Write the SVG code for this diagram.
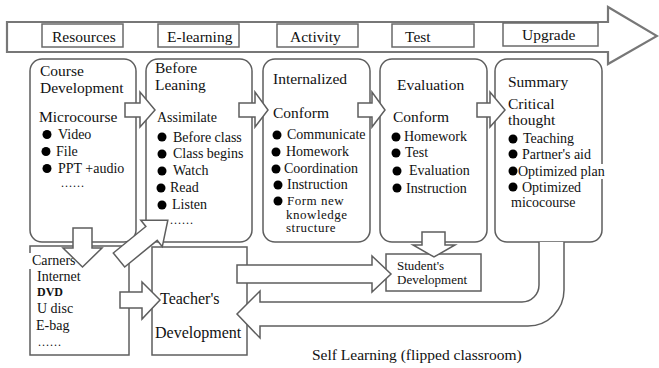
<svg xmlns="http://www.w3.org/2000/svg" width="659" height="368" viewBox="0 0 659 368">
  <style>
    text { font-family: "Liberation Serif", "Times New Roman", serif; fill: #111; }
    .title { font-size: 15.5px; }
    .item { font-size: 14px; }
    .tight { font-size: 13px; letter-spacing: 0.5px; }
    .small { font-size: 13px; }
    .more { font-size: 12px; letter-spacing: 1px; }
    .stage { fill: #fff; stroke: #6a6a6a; stroke-width: 1.5; }
    .box { fill: #fff; stroke: #5e5e5e; stroke-width: 1.5; }
    .arrow { fill: #fff; stroke: #5e5e5e; stroke-width: 1.5; stroke-linejoin: miter; }
    .dot { fill: #000; }
  </style>

  <rect x="0" y="0" width="659" height="368" fill="#fff"/>

  <!-- timeline banner with stage labels -->
  <g id="timeline">
    <path d="M7,22 L608,22 L608,7 L657,36 L608,64 L608,52 L7,52 Z" fill="#fff" stroke="#777" stroke-width="2.2"/>
  </g>
  <g id="stage-resources">
    <rect class="stage" x="42" y="24" width="81" height="23"/>
    <text class="title" x="52" y="42">Resources</text>
  </g>
  <g id="stage-elearning">
    <rect class="stage" x="158" y="24" width="81" height="23"/>
    <text class="title" x="167" y="42">E-learning</text>
  </g>
  <g id="stage-activity">
    <rect class="stage" x="277" y="24" width="81" height="23"/>
    <text class="title" x="290" y="42">Activity</text>
  </g>
  <g id="stage-test">
    <rect class="stage" x="392" y="24" width="82" height="23"/>
    <text class="title" x="405" y="42">Test</text>
  </g>
  <g id="stage-upgrade">
    <rect class="stage" x="503" y="23" width="95" height="23"/>
    <text class="title" x="522" y="40">Upgrade</text>
  </g>

  <!-- Course development -->
  <g id="course-development">
    <rect class="box" x="30" y="59" width="106" height="183" rx="12"/>
    <text class="title" x="40" y="76">Course</text>
    <text class="title" x="40" y="93">Development</text>
    <text class="title" x="39" y="122">Microcourse</text>
    <circle class="dot" cx="47" cy="134.5" r="4.5"/>
    <text class="item" x="58" y="139">Video</text>
    <circle class="dot" cx="46" cy="151.5" r="4.5"/>
    <text class="item" x="56" y="156">File</text>
    <circle class="dot" cx="47" cy="168.5" r="4.5"/>
    <text class="item" x="58" y="173">PPT +audio</text>
    <text class="more" x="61" y="187">......</text>
  </g>

  <!-- Before learning -->
  <g id="before-learning">
    <rect class="box" x="146" y="59" width="106" height="183" rx="12"/>
    <text class="title" x="155" y="73">Before</text>
    <text class="title" x="155" y="90">Leaning</text>
    <text class="item" x="157" y="122">Assimilate</text>
    <circle class="dot" cx="162" cy="137" r="4.5"/>
    <text class="item" x="173" y="142">Before class</text>
    <circle class="dot" cx="162" cy="154" r="4.5"/>
    <text class="item" x="173" y="158">Class begins</text>
    <circle class="dot" cx="162" cy="171" r="4.5"/>
    <text class="item" x="173" y="175">Watch</text>
    <circle class="dot" cx="161" cy="188" r="4.5"/>
    <text class="item" x="170" y="192">Read</text>
    <circle class="dot" cx="162" cy="205" r="4.5"/>
    <text class="item" x="172" y="209">Listen</text>
    <text class="more" x="170" y="224">......</text>
  </g>

  <!-- Internalized -->
  <g id="internalized">
    <rect class="box" x="263" y="59" width="107" height="183" rx="12"/>
    <text class="title" x="273" y="84">Internalized</text>
    <text class="title" x="273" y="118">Conform</text>
    <circle class="dot" cx="277" cy="135" r="4.5"/>
    <text class="item" x="287" y="139">Communicate</text>
    <circle class="dot" cx="276" cy="152" r="4.5"/>
    <text class="item" x="286" y="156">Homework</text>
    <circle class="dot" cx="276" cy="169" r="4.5"/>
    <text class="item" x="284" y="173">Coordination</text>
    <circle class="dot" cx="278" cy="185" r="4.5"/>
    <text class="item" x="287" y="189">Instruction</text>
    <circle class="dot" cx="278" cy="201" r="4.5"/>
    <text class="tight" x="287" y="205">Form new</text>
    <text class="tight" x="286" y="218.5">knowledge</text>
    <text class="tight" x="286" y="232">structure</text>
  </g>

  <!-- Evaluation -->
  <g id="evaluation">
    <rect class="box" x="380" y="59" width="107" height="183" rx="12"/>
    <text class="title" x="397" y="90">Evaluation</text>
    <text class="title" x="393" y="122">Conform</text>
    <circle class="dot" cx="396" cy="137" r="4.5"/>
    <text class="item" x="404" y="141">Homework</text>
    <circle class="dot" cx="396" cy="153" r="4.5"/>
    <text class="item" x="405" y="157">Test</text>
    <circle class="dot" cx="397" cy="171" r="4.5"/>
    <text class="item" x="409" y="175">Evaluation</text>
    <circle class="dot" cx="397" cy="188" r="4.5"/>
    <text class="item" x="406" y="193">Instruction</text>
  </g>

  <!-- Summary -->
  <g id="summary">
    <rect class="box" x="495" y="59" width="107" height="183" rx="12"/>
    <text class="title" x="508" y="87">Summary</text>
    <text class="title" x="508" y="109">Critical</text>
    <text class="title" x="508" y="125">thought</text>
    <circle class="dot" cx="513" cy="139" r="4.5"/>
    <text class="item" x="523" y="143">Teaching</text>
    <circle class="dot" cx="513" cy="154" r="4.5"/>
    <text class="item" x="522" y="159">Partner's aid</text>
    <rect x="597" y="164" width="9" height="15" fill="#fff"/>
    <circle class="dot" cx="513" cy="171" r="4.5"/>
    <text class="item" x="518" y="176">Optimized plan</text>
    <circle class="dot" cx="513" cy="187" r="4.5"/>
    <text class="item" x="522" y="192">Optimized</text>
    <text class="item" x="511" y="207">micocourse</text>
  </g>

  <!-- Carriers -->
  <g id="carriers">
    <rect class="box" x="30" y="246" width="99" height="109"/>
    <rect x="29" y="253" width="48" height="16" fill="#fff"/>
    <text class="item" x="32" y="265">Carners</text>
    <text class="item" x="37" y="281">Internet</text>
    <text x="37" y="296" font-family="'Liberation Sans', Arial, sans-serif" font-size="12" font-weight="bold" fill="#4a4a4a">DVD</text>
    <text class="item" x="37" y="313">U disc</text>
    <text class="item" x="36" y="330">E-bag</text>
    <text class="more" x="38" y="346">......</text>
  </g>

  <!-- Teacher's development -->
  <g id="teacher-development">
    <rect class="box" x="152" y="247" width="95" height="108"/>
    <text x="160" y="304" font-size="16">Teacher's</text>
    <text x="155" y="338" font-size="16">Development</text>
  </g>

  <!-- Student's development -->
  <g id="student-development">
    <rect class="box" x="386" y="254" width="95" height="37"/>
    <text class="small" x="397" y="269.5">Student's</text>
    <text class="small" x="397" y="284">Development</text>
  </g>

  <!-- block arrows -->
  <g id="connectors">
    <path class="arrow" d="M125,103 L140,103 L140,92 L155,110 L140,127 L140,117 L125,117 Z"/>
    <path class="arrow" d="M239,103 L255,103 L255,92 L268,110 L255,127 L255,117 L239,117 Z"/>
    <path class="arrow" d="M358,103 L372,103 L372,92 L385,110 L372,127 L372,117 L358,117 Z"/>
    <path class="arrow" d="M477,103 L490,103 L490,92 L505,110 L490,127 L490,117 L477,117 Z"/>
    <!-- course development down to carriers -->
    <path class="arrow" d="M73,228 L92,228 L92,248 L102,248 L82.5,267 L63,248 L73,248 Z"/>
    <!-- carriers up to before learning -->
    <path class="arrow" transform="translate(119,260) rotate(-39.2)" d="M0,-9 L42,-9 L42,-17 L63,0 L42,17 L42,9 L0,9 Z"/>
    <!-- carriers to teacher's development -->
    <path class="arrow" d="M120,292 L142,292 L142,282 L160,300 L142,319 L142,308 L120,308 Z"/>
    <!-- teacher's development to student's development -->
    <path class="arrow" d="M237,265 L372,265 L372,256 L391,274 L372,292 L372,283 L237,283 Z"/>
    <!-- evaluation down to student's development -->
    <path class="arrow" d="M422,232 L445,232 L445,245 L455,245 L434,257 L413,245 L422,245 Z"/>
    <!-- summary back to teacher's development -->
    <path class="arrow" d="M539,242 L539,285 A17,17 0 0 1 522,302 L260,302 L260,291 L237,314 L260,338 L260,326 L528,326 A36,36 0 0 0 564,290 L564,242"/>
  </g>

  <text x="312" y="360" font-size="15.5">Self Learning (flipped classroom)</text>
</svg>
